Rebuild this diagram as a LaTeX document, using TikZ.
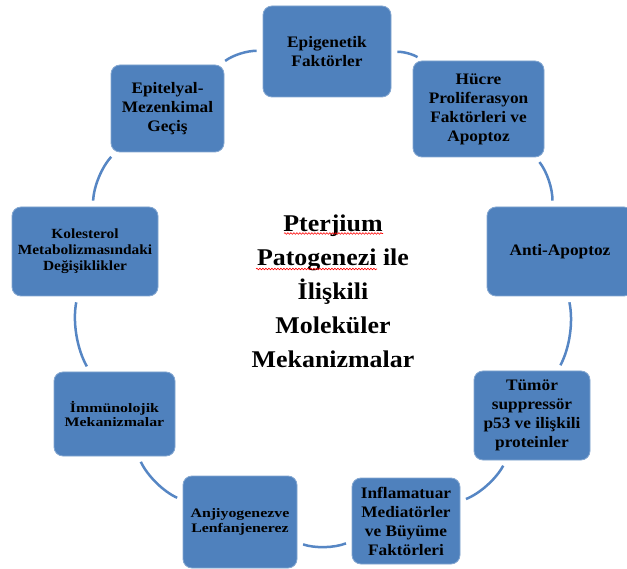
\documentclass[tikz,border=0pt]{standalone}
\usepackage{fontspec}
\setmainfont{Liberation Serif}
\newfontfamily\fA[FakeStretch=1.08]{Liberation Serif}
\newfontfamily\fK[FakeStretch=1.1]{Liberation Serif}
\newfontfamily\fI[FakeStretch=1.22]{Liberation Serif}
\usetikzlibrary{decorations.pathmorphing}
\definecolor{boxblue}{HTML}{4F81BD}
\definecolor{linkblue}{HTML}{5686C4}
\begin{document}
\begin{tikzpicture}[x=1pt,y=1pt,
  box/.style={rectangle, rounded corners=9pt, fill=boxblue, draw=boxblue!70!white,
    line width=0.8pt, align=center, text=black, inner sep=2pt,
    font=\fA\bfseries\fontsize{16}{19}\selectfont},
  kolfont/.style={font=\fK\bfseries\fontsize{14}{16}\selectfont},
  smallfont/.style={font=\fI\bfseries\fontsize{13}{14.5}\selectfont},
  link/.style={draw=linkblue, line width=2.5pt, bend left=20, looseness=0.88,
    shorten <=6pt, shorten >=6pt},
  squiggle/.style={draw=red, line width=0.6pt, decorate,
    decoration={snake, amplitude=0.8pt, segment length=3pt}}]
\fill[white] (0,0) rectangle (627,-569);
\clip (0,0) rectangle (627,-569);

\node[box, minimum width=128pt, minimum height=91pt] (epi) at (327,-51.5) {Epigenetik\\Faktörler};
\node[box, minimum width=131pt, minimum height=96pt] (huc) at (478.5,-109) {Hücre\\Proliferasyon\\Faktörleri ve\\Apoptoz};
\node[box, minimum width=146pt, minimum height=89pt] (anti) at (560,-251.5) {Anti-Apoptoz};
\node[box, minimum width=116pt, minimum height=89pt] (tum) at (532,-415.5) {Tümör\\suppressör\\p53 ve ilişkili\\proteinler};
\node[box, minimum width=108pt, minimum height=86pt] (inf) at (406,-521) {Inflamatuar\\Mediatörler\\ve Büyüme\\Faktörleri};
\node[box, smallfont, minimum width=114pt, minimum height=92pt] (anj) at (240,-522) {Anjiyogenezve\\Lenfanjenerez};
\node[box, smallfont, minimum width=121pt, minimum height=84pt] (imm) at (114.5,-414) {İmmünolojik\\Mekanizmalar};
\node[box, kolfont, minimum width=146pt, minimum height=89pt] (kol) at (85,-251.5) {Kolesterol\\Metabolizmasındaki\\Değişiklikler};
\node[box, minimum width=113pt, minimum height=87pt] (ept) at (167.5,-108.5) {Epitelyal-\\Mezenkimal\\Geçiş};

\node[font=\fA\bfseries\fontsize{24}{34}\selectfont, align=center, text=black] (title) at (333,-291) {Pterjium\\Patogenezi ile\\İlişkili\\Moleküler\\Mekanizmalar};

\draw[squiggle] (284,-233.5) -- (383,-233.5);
\draw[squiggle] (256,-269) -- (377,-269);

\draw[link] (epi) to (huc);
\draw[link] (huc) to (anti);
\draw[link] (anti) to (tum);
\draw[link] (tum) to (inf);
\draw[link] (inf) to (anj);
\draw[link] (anj) to (imm);
\draw[link] (imm) to (kol);
\draw[link] (kol) to (ept);
\draw[link] (ept) to (epi);
\end{tikzpicture}
\end{document}
